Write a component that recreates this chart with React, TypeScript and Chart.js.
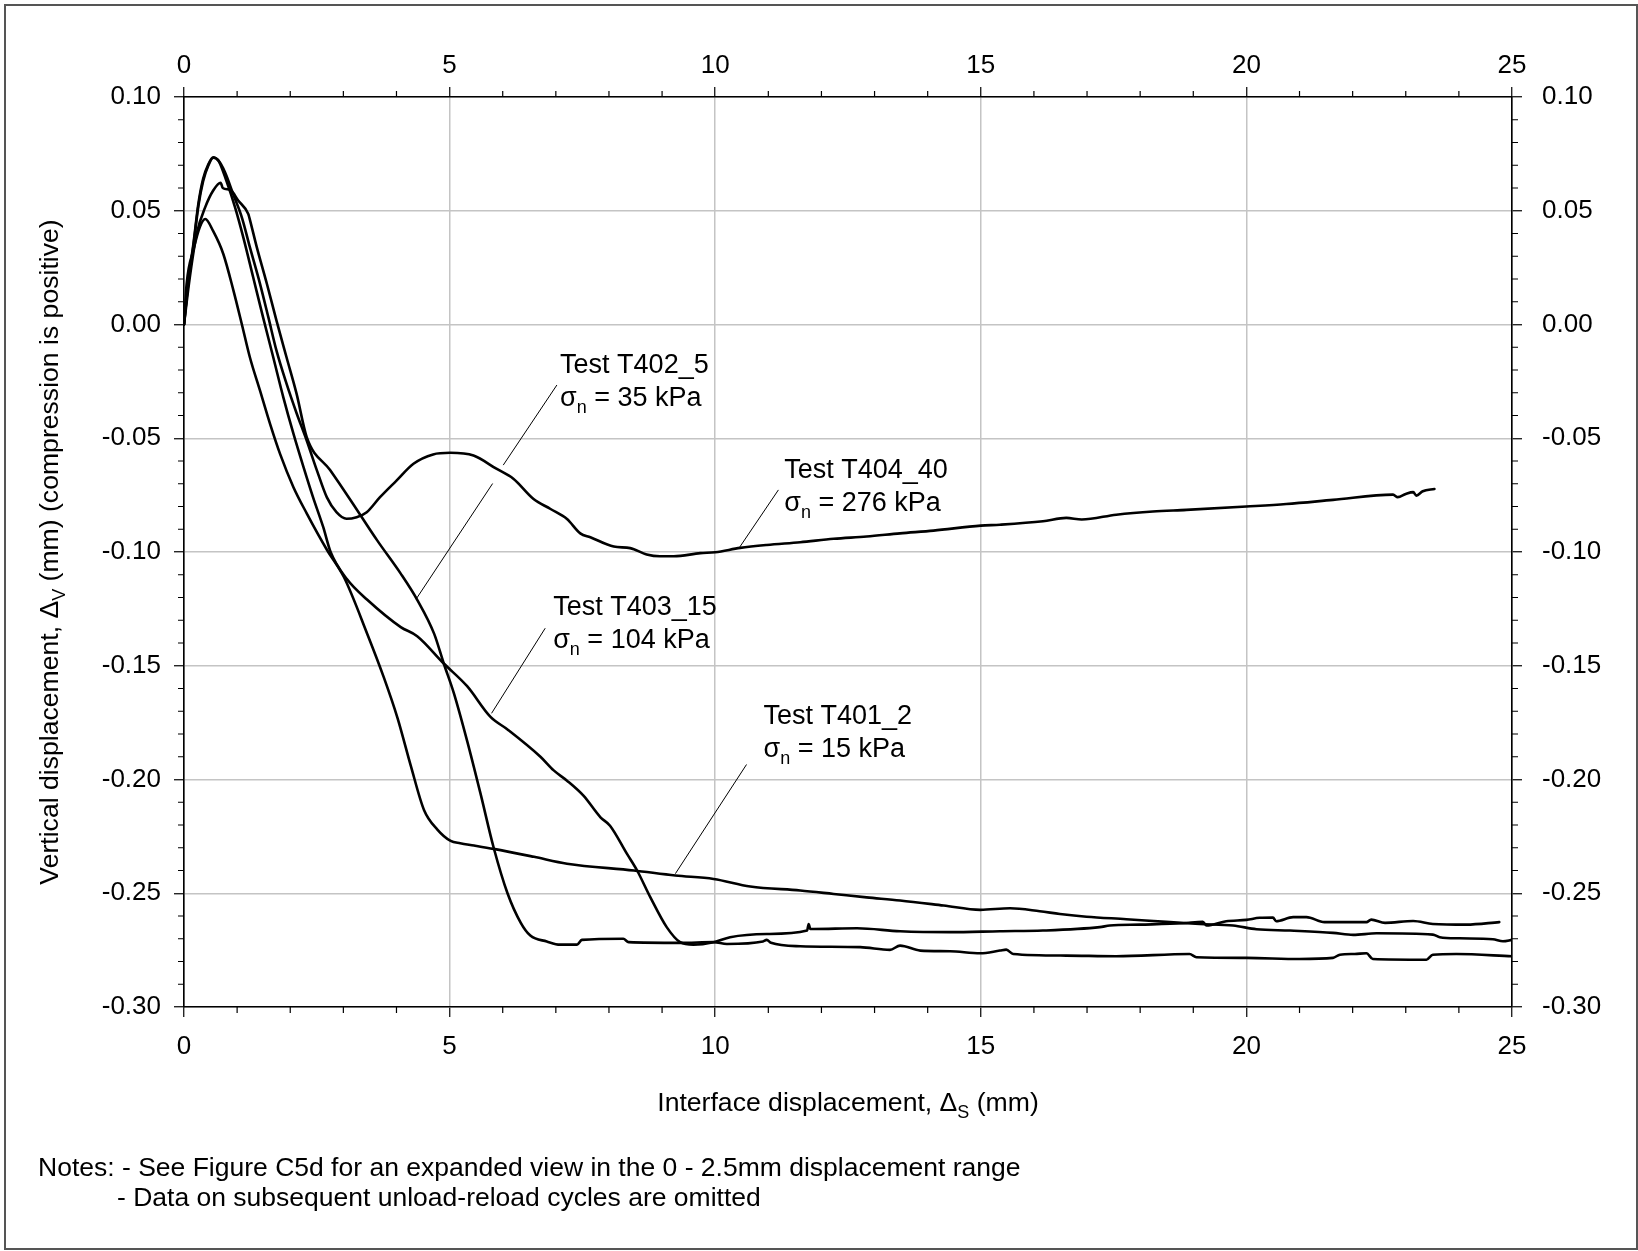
import React, { useEffect, useRef } from "react";
import { Chart, registerables } from "chart.js";

Chart.register(...registerables);

// ---------- data (interface displacement mm, vertical displacement mm) ----------
const T401_2: [number, number][] = [
  [0, 0], [0.05, 0.018], [0.18, 0.033], [0.3, 0.043], [0.4, 0.0464], [0.55, 0.041], [0.74, 0.031],
  [0.93, 0.015], [1.09, 0], [1.24, -0.0144], [1.43, -0.029], [1.62, -0.0437], [1.81, -0.057],
  [2.06, -0.0715], [2.31, -0.083], [2.69, -0.099], [3.01, -0.111], [3.45, -0.136], [3.76, -0.155],
  [4.02, -0.173], [4.27, -0.194], [4.52, -0.2135], [4.77, -0.222], [5.02, -0.227], [5.2, -0.228],
  [5.46, -0.229], [5.83, -0.2305], [6.59, -0.234], [7.21, -0.237], [8.47, -0.24], [9.25, -0.2422],
  [9.97, -0.2437], [10.66, -0.247], [11.6, -0.2488], [12.23, -0.2503], [12.85, -0.2518],
  [13.48, -0.2532], [14.3, -0.2554], [14.99, -0.2573], [15.55, -0.2566], [16.11, -0.2579],
  [16.49, -0.2591], [16.99, -0.2603], [17.74, -0.2614], [18.49, -0.2626], [19.12, -0.2635],
  [19.75, -0.2642], [20.19, -0.2658], [20.82, -0.2664], [21.63, -0.2674], [22.01, -0.2683],
  [22.45, -0.2676], [23.51, -0.2682], [23.64, -0.2693], [24.01, -0.2698], [24.64, -0.2702],
  [24.83, -0.2711], [25, -0.2705],
];

const T402_5: [number, number][] = [
  [0, 0], [0.11, 0.0208], [0.24, 0.04], [0.4, 0.0516], [0.55, 0.0589], [0.69, 0.0623], [0.73, 0.06],
  [0.87, 0.0592], [1.02, 0.0545], [1.21, 0.0486], [1.23, 0.047], [1.37, 0.034], [1.56, 0.0179],
  [1.74, 0.0018], [1.93, -0.0144], [2.12, -0.0305], [2.31, -0.0495], [2.75, -0.064], [3.13, -0.077],
  [3.64, -0.095], [4.08, -0.1095], [4.39, -0.121], [4.71, -0.136], [4.89, -0.149], [5.08, -0.162],
  [5.33, -0.183], [5.58, -0.206], [5.83, -0.23], [6.09, -0.25], [6.34, -0.263], [6.52, -0.2686],
  [6.83, -0.2712], [7.08, -0.2726], [7.4, -0.2726], [7.49, -0.2705], [8.27, -0.27], [8.37, -0.2715],
  [9.34, -0.2718], [9.97, -0.2715], [10.22, -0.2723], [10.9, -0.2712], [10.97, -0.2705],
  [11.05, -0.2718], [11.6, -0.2733], [12.73, -0.2737], [13.29, -0.2749], [13.48, -0.273],
  [13.86, -0.2752], [14.42, -0.2755], [14.99, -0.2764], [15.36, -0.2752], [15.48, -0.2748],
  [15.61, -0.2767], [16.61, -0.2774], [17.55, -0.2777], [18.93, -0.2767], [19.06, -0.2781],
  [20, -0.2784], [21.0, -0.2789], [21.63, -0.2784], [21.76, -0.277], [22.04, -0.2767],
  [22.26, -0.2764], [22.38, -0.2789], [23.39, -0.2792], [23.51, -0.277], [23.95, -0.2767],
  [25, -0.2777],
];

const T403_15: [number, number][] = [
  [0, 0], [0.08, 0.018], [0.18, 0.035], [0.27, 0.052], [0.36, 0.063], [0.46, 0.07], [0.55, 0.0733],
  [0.65, 0.072], [0.8, 0.063], [0.96, 0.0516], [1.12, 0.038], [1.3, 0.021], [1.49, 0.003],
  [1.68, -0.0144], [1.87, -0.032], [2.06, -0.048], [2.25, -0.0627], [2.43, -0.076], [2.62, -0.089],
  [2.76, -0.1], [3.07, -0.112], [3.45, -0.121], [4.08, -0.133], [4.39, -0.137], [4.89, -0.149],
  [5.33, -0.159], [5.77, -0.1725], [6.09, -0.178], [6.71, -0.19], [6.96, -0.196], [7.21, -0.2005],
  [7.52, -0.2071], [7.84, -0.2166], [8.02, -0.2203], [8.34, -0.2327], [8.53, -0.24], [8.78, -0.2518],
  [9.09, -0.265], [9.34, -0.2715], [9.59, -0.2726], [9.97, -0.2715], [10.28, -0.2693],
  [10.97, -0.2679], [11.73, -0.2664], [11.76, -0.2635], [11.79, -0.2657], [11.85, -0.2657],
  [12.67, -0.2654], [13.48, -0.2667], [14.42, -0.2671], [15.36, -0.2667], [16.17, -0.2664],
  [17.24, -0.2649], [17.43, -0.2642], [18.0, -0.2638], [18.81, -0.2632], [19.18, -0.2625],
  [19.25, -0.2642], [19.62, -0.2623], [20, -0.2617], [20.25, -0.2608], [20.5, -0.2607],
  [20.56, -0.2623], [20.88, -0.2605], [21.13, -0.2605], [21.47, -0.2627], [22.26, -0.2627],
  [22.35, -0.2616], [22.61, -0.263], [23.14, -0.2622], [23.51, -0.2635], [24.14, -0.2638],
  [24.76, -0.2627],
];

const T404_40: [number, number][] = [
  [0, 0], [0.08, 0.019], [0.18, 0.036], [0.27, 0.053], [0.36, 0.064], [0.46, 0.0705], [0.55, 0.0735],
  [0.65, 0.072], [0.77, 0.067], [0.93, 0.057], [1.09, 0.047], [1.24, 0.034], [1.43, 0.018],
  [1.59, 0.003], [1.74, -0.0114], [1.93, -0.026], [2.12, -0.039], [2.31, -0.051], [2.5, -0.064],
  [2.69, -0.076], [2.87, -0.0825], [3.06, -0.0854], [3.25, -0.0847], [3.44, -0.0825], [3.69, -0.0759],
  [4.0, -0.0686], [4.32, -0.0612], [4.69, -0.0571], [5.01, -0.0564], [5.45, -0.0576], [5.88, -0.0634],
  [6.2, -0.0678], [6.58, -0.0767], [6.9, -0.0811], [7.21, -0.0855], [7.46, -0.0918], [7.65, -0.0935],
  [8.09, -0.0976], [8.4, -0.0983], [8.71, -0.1011], [8.96, -0.1019], [9.22, -0.1019], [9.72, -0.1005],
  [10.0, -0.1001], [10.47, -0.0982], [10.97, -0.0969], [11.6, -0.0957], [12.23, -0.0942],
  [12.85, -0.0932], [13.48, -0.0918], [14.11, -0.0906], [15.0, -0.0884], [15.36, -0.088],
  [16.17, -0.0865], [16.61, -0.085], [16.9, -0.0857], [17.55, -0.0836], [18.24, -0.0822],
  [18.87, -0.0815], [20, -0.08], [20.75, -0.0789], [21.63, -0.0771], [22.76, -0.0748],
  [22.85, -0.0759], [23.0, -0.0745], [23.14, -0.0737], [23.2, -0.0752], [23.32, -0.0733],
  [23.54, -0.0723],
];

const SERIES = [
  { name: "T401_2", data: T401_2 },
  { name: "T402_5", data: T402_5 },
  { name: "T403_15", data: T403_15 },
  { name: "T404_40", data: T404_40 },
];

// axis ranges and tick steps
const X_MIN = 0;
const X_MAX = 25;
const X_MAJOR = 5;
const X_MINOR = 1;
const Y_MIN = -0.3;
const Y_MAX = 0.1;
const Y_MAJOR = 0.05;
const Y_MINOR = 0.01;

// text
const X_TITLE = [{ t: "Interface displacement, \u0394" }, { t: "S", sub: true }, { t: " (mm)" }];
const Y_TITLE = [
  { t: "Vertical displacement, \u0394" },
  { t: "V", sub: true },
  { t: " (mm) (compression is positive)" },
];
const NOTE_1 = "Notes: - See Figure C5d for an expanded view in the 0 - 2.5mm displacement range";
const NOTE_2 = "- Data on subsequent unload-reload cycles are omitted";

// annotations: label anchor (data units) + leader line (data units)
const ANNOTATIONS = [
  { test: "Test T402_5", stress: " = 35 kPa", at: [7.08, -0.0211], from: [7.02, -0.0266], to: [4.37, -0.1207], gap: [[6.01, -0.0618], [5.81, -0.0699]] },
  { test: "Test T404_40", stress: " = 276 kPa", at: [11.3, -0.0676], from: [11.19, -0.0727], to: [10.46, -0.0979] },
  { test: "Test T403_15", stress: " = 104 kPa", at: [6.95, -0.1277], from: [6.8, -0.1335], to: [5.79, -0.1709] },
  { test: "Test T401_2", stress: " = 15 kPa", at: [10.91, -0.1755], from: [10.59, -0.1934], to: [9.25, -0.2414] },
];

// ---------- styling ----------
const FAMILY = '"Liberation Sans", Arial, Helvetica, sans-serif';
const ANNOT_SIZE = 27;
const TITLE_SIZE = 26.6;
const NOTE_SIZE = 26.5;
const TICK_SIZE = 26;
const SUB_SIZE = 18;
const SUB_DY = 7;
const SUB_FONT = `${SUB_SIZE}px ${FAMILY}`;
const fontOf = (size: number) => `${size}px ${FAMILY}`;
const W = 1638;
const H = 1251;

type Part = { t: string; sub?: boolean };

function measureRich(ctx: CanvasRenderingContext2D, parts: Part[], size: number) {
  let w = 0;
  for (const p of parts) {
    ctx.font = p.sub ? SUB_FONT : fontOf(size);
    w += ctx.measureText(p.t).width;
  }
  return w;
}

function drawRich(ctx: CanvasRenderingContext2D, x: number, y: number, parts: Part[], size: number) {
  let cx = x;
  for (const p of parts) {
    ctx.font = p.sub ? SUB_FONT : fontOf(size);
    ctx.fillText(p.t, cx, p.sub ? y + SUB_DY : y);
    cx += ctx.measureText(p.t).width;
  }
}

const decorPlugin = {
  id: "decor",
  afterDraw(chart: any) {
    const ctx: CanvasRenderingContext2D = chart.ctx;
    const { left, right, top, bottom } = chart.chartArea;
    const xs = chart.scales.x;
    const ys = chart.scales.y;
    const px = (v: number) => xs.getPixelForValue(v);
    const py = (v: number) => ys.getPixelForValue(v);
    ctx.save();

    // minor ticks
    ctx.strokeStyle = "#000";
    ctx.lineWidth = 1.2;
    ctx.beginPath();
    const nx = Math.round((X_MAX - X_MIN) / X_MINOR);
    for (let i = 0; i <= nx; i++) {
      const v = X_MIN + i * X_MINOR;
      if (Math.abs(v / X_MAJOR - Math.round(v / X_MAJOR)) < 1e-6) continue;
      const p = px(v);
      ctx.moveTo(p, bottom);
      ctx.lineTo(p, bottom + 6);
      ctx.moveTo(p, top);
      ctx.lineTo(p, top - 6);
    }
    const ny = Math.round((Y_MAX - Y_MIN) / Y_MINOR);
    for (let i = 0; i <= ny; i++) {
      const v = Y_MIN + i * Y_MINOR;
      if (Math.abs(v / Y_MAJOR - Math.round(v / Y_MAJOR)) < 1e-6) continue;
      const p = py(v);
      ctx.moveTo(left - 6, p);
      ctx.lineTo(left, p);
      ctx.moveTo(right, p);
      ctx.lineTo(right + 6, p);
    }
    ctx.stroke();

    // annotation leaders and labels
    ctx.fillStyle = "#000";
    ctx.textAlign = "left";
    ctx.textBaseline = "alphabetic";
    ctx.lineWidth = 1;
    for (const a of ANNOTATIONS) {
      ctx.beginPath();
      if (a.gap) {
        ctx.moveTo(px(a.from[0]), py(a.from[1]));
        ctx.lineTo(px(a.gap[0][0]), py(a.gap[0][1]));
        ctx.moveTo(px(a.gap[1][0]), py(a.gap[1][1]));
        ctx.lineTo(px(a.to[0]), py(a.to[1]));
      } else {
        ctx.moveTo(px(a.from[0]), py(a.from[1]));
        ctx.lineTo(px(a.to[0]), py(a.to[1]));
      }
      ctx.stroke();
      const x0 = px(a.at[0]);
      const y0 = py(a.at[1]);
      ctx.font = fontOf(ANNOT_SIZE);
      ctx.fillText(a.test, x0, y0);
      drawRich(ctx, x0, y0 + 33, [{ t: "\u03c3" }, { t: "n", sub: true }, { t: a.stress }], ANNOT_SIZE);
    }

    // x axis title
    const cxm = (left + right) / 2;
    const wx = measureRich(ctx, X_TITLE, TITLE_SIZE);
    drawRich(ctx, cxm - wx / 2, bottom + 104, X_TITLE, TITLE_SIZE);

    // y axis title (rotated)
    const wy = measureRich(ctx, Y_TITLE, TITLE_SIZE);
    ctx.save();
    ctx.translate(58, (top + bottom) / 2);
    ctx.rotate(-Math.PI / 2);
    drawRich(ctx, -wy / 2, 0, Y_TITLE, TITLE_SIZE);
    ctx.restore();

    // notes
    ctx.font = fontOf(NOTE_SIZE);
    ctx.fillText(NOTE_1, 38, 1176);
    ctx.fillText(NOTE_2, 117, 1206);

    // outer frame
    ctx.strokeStyle = "#555";
    ctx.lineWidth = 2;
    ctx.strokeRect(5, 5, 1632, 1244);
    ctx.restore();
  },
};

const yLabel = (v: any) => {
  const n = Number(v);
  return (Math.abs(n) < 1e-9 ? 0 : n).toFixed(2);
};
const xLabel = (v: any) => String(Math.round(Number(v)));

export default function App() {
  const ref = useRef<HTMLCanvasElement | null>(null);

  useEffect(() => {
    if (!ref.current) return;
    const tickFont = { family: FAMILY, size: TICK_SIZE };
    const gridMain = {
      color: "#c4c4c4",
      lineWidth: 1.5,
      tickLength: 10,
      tickColor: "#000",
      tickWidth: 1.2,
    };
    const border = { display: true, color: "#000", width: 1.6 };

    const chart = new Chart(ref.current, {
      type: "scatter",
      data: {
        datasets: SERIES.map((s) => ({
          label: s.name,
          data: s.data.map(([x, y]) => ({ x, y })),
          showLine: true,
          borderColor: "#000",
          backgroundColor: "#000",
          borderWidth: 2.6,
          pointRadius: 0,
          pointHoverRadius: 0,
          cubicInterpolationMode: "monotone",
          fill: false,
          borderJoinStyle: "round",
          borderCapStyle: "round",
          xAxisID: "x",
          yAxisID: "y",
        })),
      },
      options: {
        responsive: false,
        maintainAspectRatio: false,
        animation: false,
        devicePixelRatio: 1,
        events: [],
        layout: { padding: 0 },
        plugins: { legend: { display: false }, tooltip: { enabled: false }, title: { display: false } },
        scales: {
          x: {
            position: "bottom",
            type: "linear",
            min: X_MIN,
            max: X_MAX,
            grid: { ...gridMain },
            border,
            ticks: { stepSize: X_MAJOR, font: tickFont, color: "#000", padding: 14, maxRotation: 0, autoSkip: false, callback: xLabel },
            afterFit: (s: any) => { s.height = H - 1007; },
          },
          x2: {
            position: "top",
            type: "linear",
            min: X_MIN,
            max: X_MAX,
            grid: { ...gridMain, drawOnChartArea: false },
            border,
            ticks: { stepSize: X_MAJOR, font: tickFont, color: "#000", padding: 6, maxRotation: 0, autoSkip: false, callback: xLabel },
            afterFit: (s: any) => { s.height = 97; },
          },
          y: {
            position: "left",
            type: "linear",
            min: Y_MIN,
            max: Y_MAX,
            grid: { ...gridMain },
            border,
            ticks: { stepSize: Y_MAJOR, font: tickFont, color: "#000", padding: 13, autoSkip: false, callback: yLabel },
            afterFit: (s: any) => { s.width = 184; },
          },
          y2: {
            position: "right",
            type: "linear",
            min: Y_MIN,
            max: Y_MAX,
            grid: { ...gridMain, drawOnChartArea: false },
            border,
            ticks: { stepSize: Y_MAJOR, font: tickFont, color: "#000", padding: 20, autoSkip: false, callback: yLabel },
            afterFit: (s: any) => { s.width = W - 1512; },
          },
        },
      } as any,
      plugins: [decorPlugin],
    });
    return () => chart.destroy();
  }, []);

  return (
    <div style={{ position: "absolute", left: 0, top: 0, width: W, height: H, background: "#fff", overflow: "hidden" }}>
      <canvas ref={ref} width={W} height={H} style={{ display: "block", width: W, height: H }} />
    </div>
  );
}
